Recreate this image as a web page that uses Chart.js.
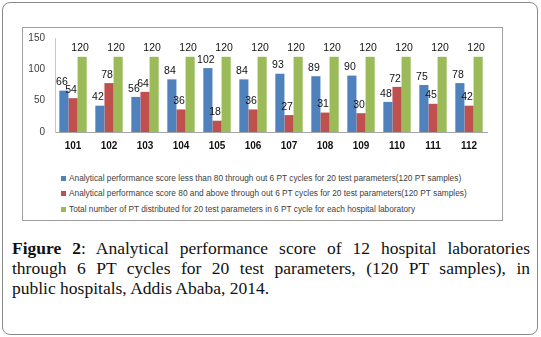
<!DOCTYPE html>
<html>
<head>
<meta charset="utf-8">
<script src="https://cdn.jsdelivr.net/npm/chart.js@4.4.0/dist/chart.umd.min.js"></script>
<style>
  html, body { margin: 0; padding: 0; background: #fff; }
  body { width: 541px; height: 337px; position: relative; overflow: hidden; }
  .frame {
    position: absolute; left: 2px; top: 2px; width: 534px; height: 331px;
    border: 1.5px solid #8a8a8a; border-radius: 8px;
  }
  .chart-box {
    position: absolute; left: 22px; top: 27px; width: 479px; height: 192px;
    border: 1px solid #a0a0a0;
  }
  .chart-box canvas { position: absolute; left: 0; top: -6px; }
  .legend {
    position: absolute; left: 38px; top: 143px;
    font-family: "Liberation Sans", Arial, sans-serif; font-size: 8.3px; color: #404040;
  }
  .legend div { height: 15.3px; line-height: 15.3px; white-space: nowrap; }
  .legend span {
    display: inline-block; width: 5px; height: 5px; margin-right: 3px; vertical-align: 0px;
  }
  .caption {
    position: absolute; left: 12px; top: 238px; width: 518px;
    font-family: "Liberation Serif", "DejaVu Serif", serif; font-size: 17.5px; line-height: 20px;
    color: #111;
  }
  .caption .j { display: block; text-align: justify; text-align-last: justify; }
  .caption .l { display: block; }
</style>
</head>
<body>
<div class="frame"></div>
<div class="chart-box">
  <canvas id="chart" width="479" height="136"></canvas>
  <div class="legend" id="legend"></div>
</div>
<div class="caption"><span class="j"><b>Figure 2</b>: Analytical performance score of 12 hospital laboratories</span><span class="j">through 6 PT cycles for 20 test parameters, (120 PT samples), in</span><span class="l">public hospitals, Addis Ababa, 2014.</span></div>

<script>
const hospitals = ['101', '102', '103', '104', '105', '106', '107', '108', '109', '110', '111', '112'];
const below80 = [66, 42, 56, 84, 102, 84, 93, 89, 90, 48, 75, 78];
const above80 = [54, 78, 64, 36, 18, 36, 27, 31, 30, 72, 45, 42];
const totalPT = [120, 120, 120, 120, 120, 120, 120, 120, 120, 120, 120, 120];
const seriesNames = [
    'Analytical performance score less than 80 through out 6 PT cycles for 20 test parameters(120 PT samples)',
    'Analytical performance score 80 and above through out 6 PT cycles for 20 test parameters(120 PT samples)',
    'Total number of PT distributed for 20 test parameters in 6 PT cycle for each hospital laboratory'
];
const seriesColors = ['#4F81BD', '#C0504D', '#9BBB59'];

// value labels drawn above every bar
const barLabels = {
    id: 'barLabels',
    afterDatasetsDraw(chart) {
        const ctx = chart.ctx;
        ctx.save();
        ctx.font = '10.5px "Liberation Sans", Arial, sans-serif';
        ctx.fillStyle = '#111';
        ctx.textAlign = 'center';
        ctx.textBaseline = 'bottom';
        chart.data.datasets.forEach((ds, i) => {
            chart.getDatasetMeta(i).data.forEach((bar, j) => {
                ctx.fillText(ds.data[j], bar.x - 2, bar.y - 3);
            });
        });
        ctx.restore();
    }
};

const ctx = document.getElementById('chart').getContext('2d');
new Chart(ctx, {
    type: 'bar',
    data: {
        labels: hospitals,
        datasets: [below80, above80, totalPT].map((d, i) => ({
            label: seriesNames[i],
            data: d,
            backgroundColor: seriesColors[i],
            borderWidth: 0
        }))
    },
    options: {
        responsive: false,
        animation: false,
        layout: { padding: { top: 4, right: 15, left: 0, bottom: 0 } },
        datasets: { bar: { categoryPercentage: 0.76, barPercentage: 1.0 } },
        plugins: { legend: { display: false }, tooltip: { enabled: false } },
        scales: {
            x: {
                grid: { display: false, drawTicks: false },
                border: { color: '#a6a6a6' },
                ticks: {
                    color: '#111',
                    padding: 8,
                    font: { family: '"Liberation Sans", Arial, sans-serif', size: 10, weight: 'bold' }
                },
                afterFit(axis) { axis.height = 26; }
            },
            y: {
                min: 0,
                max: 150,
                grid: { display: false, drawTicks: false },
                border: { color: '#c8c8c8' },
                ticks: {
                    stepSize: 50,
                    color: '#404040',
                    padding: 10,
                    font: { family: '"Liberation Sans", Arial, sans-serif', size: 10 }
                },
                afterFit(axis) { axis.width = 32; }
            }
        }
    },
    plugins: [barLabels]
});

const legendEl = document.getElementById('legend');
seriesNames.forEach((name, i) => {
    const row = document.createElement('div');
    row.innerHTML = '<span style="background:' + seriesColors[i] + '"></span>' + name;
    legendEl.appendChild(row);
});
</script>
</body>
</html>
